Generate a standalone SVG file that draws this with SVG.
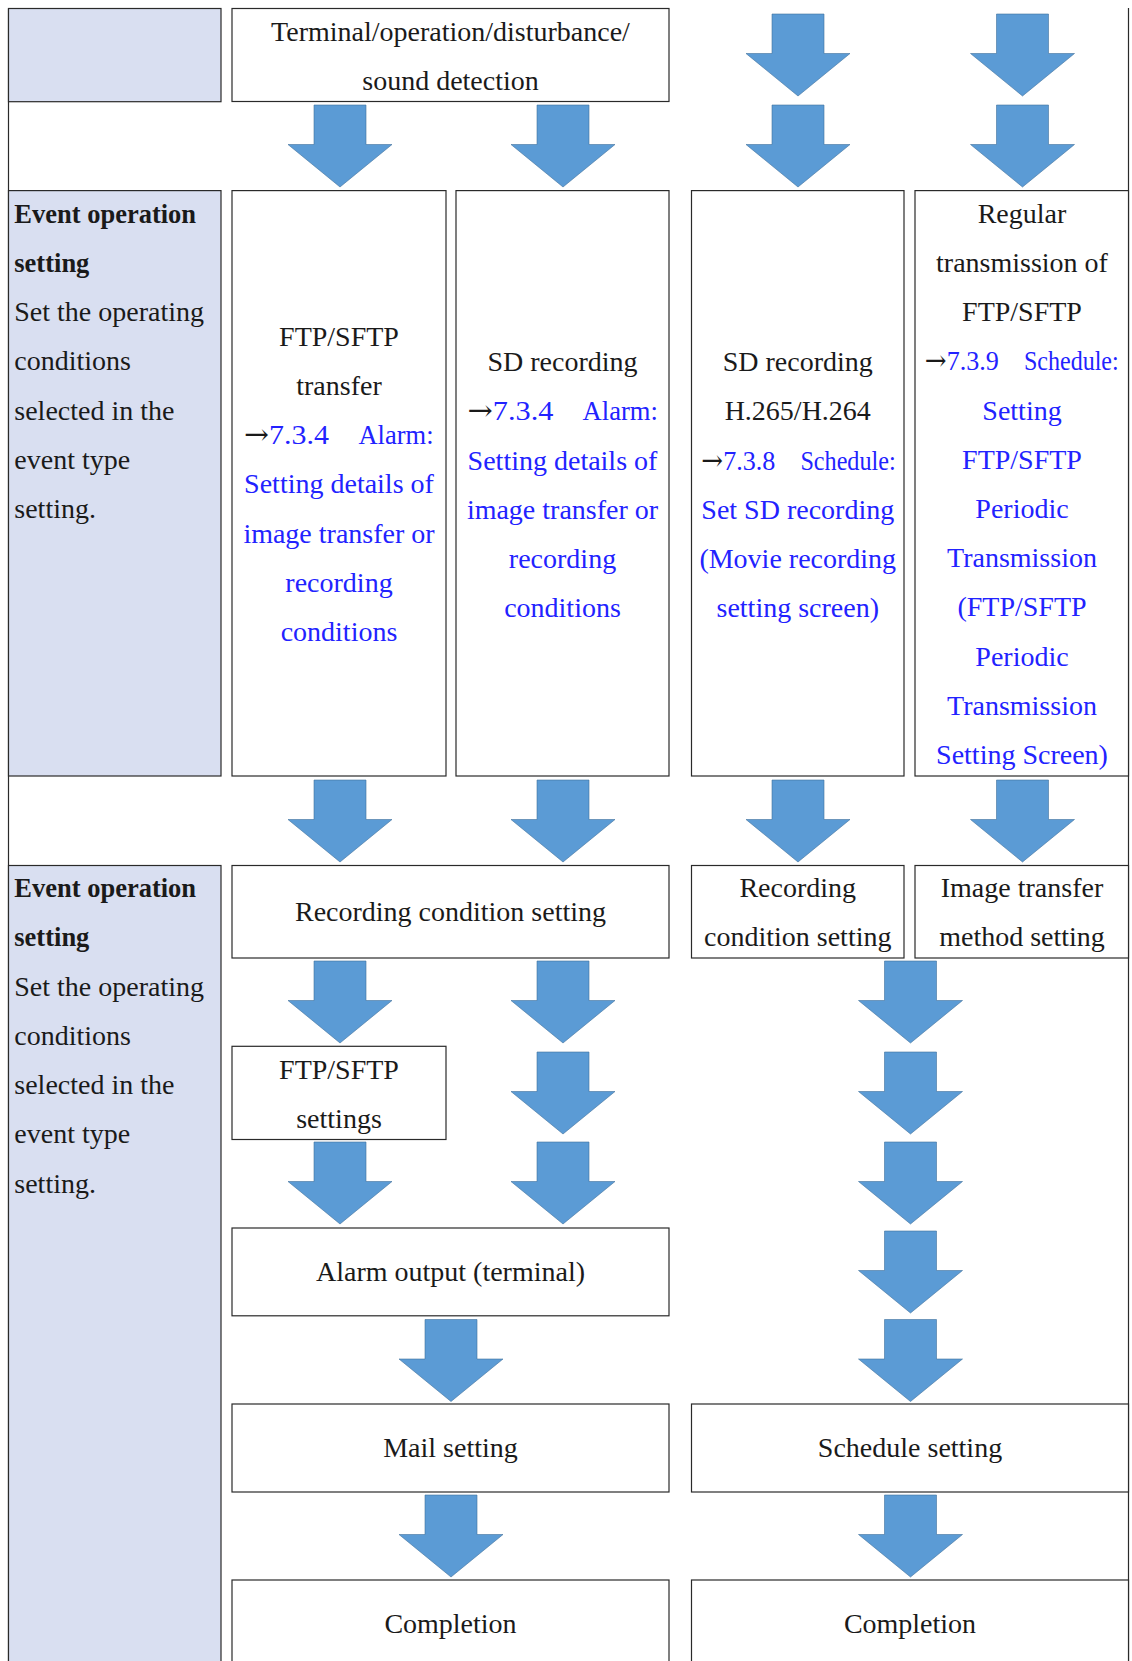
<svg xmlns="http://www.w3.org/2000/svg" width="1132" height="1661" viewBox="0 0 1132 1661">
<style>
.panel{fill:#D9DFF1;stroke:#2a2a2a;stroke-width:1.2}
.box{fill:#ffffff;stroke:#2a2a2a;stroke-width:1.2}
.frame{stroke:#2a2a2a;stroke-width:1.2;fill:none}
text{font-family:"Liberation Serif","Times New Roman",serif;font-size:28px;fill:#1a1a1a}
.c{text-anchor:middle}
.b{font-weight:bold;font-size:26.5px}
.bl{fill:#2222ff}
.ar{font-family:"DejaVu Serif","DejaVu Sans",serif;fill:#1a1a1a}
.arr{fill:#5B9BD5;stroke:#41719C;stroke-width:1;stroke-opacity:0.6}
</style>
<defs>
<path id="a" class="arr" d="M-26,0H26V39.5H52L0,82L-52,39.5H-26Z"/>
</defs>
<rect x="0" y="0" width="1132" height="1661" fill="#ffffff"/>
<g id="frame">
<line class="frame" x1="8.5" y1="8.5" x2="8.5" y2="1661"/>
<line class="frame" x1="1128.5" y1="8" x2="1128.5" y2="1661"/>
</g>
<g id="panel-top"><rect class="panel" x="8.5" y="8.5" width="212.5" height="93.2"/></g>
<g id="panel-event-1">
<rect class="panel" x="8.5" y="190.6" width="212.5" height="585.4"/>
<text class="b" x="14.3" y="222.5">Event operation</text>
<text class="b" x="14.3" y="271.7">setting</text>
<text x="14.3" y="321">Set the operating</text>
<text x="14.3" y="370.2">conditions</text>
<text x="14.3" y="419.5">selected in the</text>
<text x="14.3" y="468.7">event type</text>
<text x="14.3" y="518">setting.</text>
</g>
<g id="panel-event-2">
<rect class="panel" x="8.5" y="865.5" width="212.5" height="805"/>
<text class="b" x="14.3" y="897">Event operation</text>
<text class="b" x="14.3" y="946.2">setting</text>
<text x="14.3" y="995.5">Set the operating</text>
<text x="14.3" y="1044.7">conditions</text>
<text x="14.3" y="1094">selected in the</text>
<text x="14.3" y="1143.2">event type</text>
<text x="14.3" y="1192.5">setting.</text>
</g>
<g id="detection">
<rect class="box" x="232" y="8.5" width="437" height="93"/>
<text class="c" x="450.5" y="41">Terminal/operation/disturbance/</text>
<text class="c" x="450.5" y="89.5">sound detection</text>
</g>
<g id="ftp-transfer">
<rect class="box" x="232" y="190.6" width="214" height="585.4"/>
<text class="c" x="339" y="345.5">FTP/SFTP</text>
<text class="c" x="339" y="394.7">transfer</text>
<text x="244" y="444" textLength="85" lengthAdjust="spacingAndGlyphs"><tspan class="ar">→</tspan><tspan class="bl">7.3.4</tspan></text>
<text class="bl" x="358.5" y="444" textLength="75" lengthAdjust="spacingAndGlyphs">Alarm:</text>
<text class="c bl" x="339" y="493.2">Setting details of</text>
<text class="c bl" x="339" y="542.5">image transfer or</text>
<text class="c bl" x="339" y="591.7">recording</text>
<text class="c bl" x="339" y="641">conditions</text>
</g>
<g id="sd-recording-alarm">
<rect class="box" x="456" y="190.6" width="213" height="585.4"/>
<text class="c" x="562.5" y="371">SD recording</text>
<text x="467.4" y="420.2" textLength="86" lengthAdjust="spacingAndGlyphs"><tspan class="ar">→</tspan><tspan class="bl">7.3.4</tspan></text>
<text class="bl" x="582.6" y="420.2" textLength="75.2" lengthAdjust="spacingAndGlyphs">Alarm:</text>
<text class="c bl" x="562.5" y="469.5">Setting details of</text>
<text class="c bl" x="562.5" y="518.7">image transfer or</text>
<text class="c bl" x="562.5" y="568">recording</text>
<text class="c bl" x="562.5" y="617.2">conditions</text>
</g>
<g id="sd-recording-h265">
<rect class="box" x="691.5" y="190.6" width="212.5" height="585.4"/>
<text class="c" x="797.75" y="371">SD recording</text>
<text class="c" x="797.75" y="420.2">H.265/H.264</text>
<text x="701.3" y="469.5" textLength="74" lengthAdjust="spacingAndGlyphs"><tspan class="ar">→</tspan><tspan class="bl">7.3.8</tspan></text>
<text class="bl" x="800.4" y="469.5" textLength="95.3" lengthAdjust="spacingAndGlyphs">Schedule:</text>
<text class="c bl" x="797.75" y="518.7">Set SD recording</text>
<text class="c bl" x="797.75" y="568">(Movie recording</text>
<text class="c bl" x="797.75" y="617.2">setting screen)</text>
</g>
<g id="regular-transmission">
<rect class="box" x="915" y="190.6" width="213.5" height="585.4"/>
<text class="c" x="1022" y="222.5">Regular</text>
<text class="c" x="1022" y="271.7">transmission of</text>
<text class="c" x="1022" y="321">FTP/SFTP</text>
<text x="924.8" y="370.2" textLength="74" lengthAdjust="spacingAndGlyphs"><tspan class="ar">→</tspan><tspan class="bl">7.3.9</tspan></text>
<text class="bl" x="1024" y="370.2" textLength="94.7" lengthAdjust="spacingAndGlyphs">Schedule:</text>
<text class="c bl" x="1022" y="419.5">Setting</text>
<text class="c bl" x="1022" y="468.7">FTP/SFTP</text>
<text class="c bl" x="1022" y="518">Periodic</text>
<text class="c bl" x="1022" y="567.2">Transmission</text>
<text class="c bl" x="1022" y="616.4">(FTP/SFTP</text>
<text class="c bl" x="1022" y="665.7">Periodic</text>
<text class="c bl" x="1022" y="714.9">Transmission</text>
<text class="c bl" x="1022" y="764.2">Setting Screen)</text>
</g>
<g id="recording-condition-1">
<rect class="box" x="232" y="865.5" width="437" height="92.5"/>
<text class="c" x="450.5" y="921">Recording condition setting</text>
</g>
<g id="recording-condition-2">
<rect class="box" x="691.5" y="865.5" width="212.5" height="92.5"/>
<text class="c" x="797.75" y="897">Recording</text>
<text class="c" x="797.75" y="946">condition setting</text>
</g>
<g id="image-transfer-method">
<rect class="box" x="915" y="865.5" width="213.5" height="92.5"/>
<text class="c" x="1022" y="897">Image transfer</text>
<text class="c" x="1022" y="946">method setting</text>
</g>
<g id="ftp-settings">
<rect class="box" x="232" y="1046.3" width="214" height="93.2"/>
<text class="c" x="339" y="1078.5">FTP/SFTP</text>
<text class="c" x="339" y="1127.5">settings</text>
</g>
<g id="alarm-output">
<rect class="box" x="232" y="1228" width="437" height="87.8"/>
<text class="c" x="450.5" y="1281">Alarm output (terminal)</text>
</g>
<g id="mail-setting">
<rect class="box" x="232" y="1404" width="437" height="88"/>
<text class="c" x="450.5" y="1457">Mail setting</text>
</g>
<g id="schedule-setting">
<rect class="box" x="691.5" y="1404" width="437" height="88"/>
<text class="c" x="910" y="1457">Schedule setting</text>
</g>
<g id="completion-1">
<rect class="box" x="232" y="1580" width="437" height="100"/>
<text class="c" x="450.5" y="1633">Completion</text>
</g>
<g id="completion-2">
<rect class="box" x="691.5" y="1580" width="437" height="100"/>
<text class="c" x="910" y="1633">Completion</text>
</g>
<g id="connectors">
<use href="#a" x="798" y="14"/>
<use href="#a" x="1022.5" y="14"/>
<use href="#a" x="340" y="105"/>
<use href="#a" x="563" y="105"/>
<use href="#a" x="798" y="105"/>
<use href="#a" x="1022.5" y="105"/>
<use href="#a" x="340" y="780"/>
<use href="#a" x="563" y="780"/>
<use href="#a" x="798" y="780"/>
<use href="#a" x="1022.5" y="780"/>
<use href="#a" x="340" y="961"/>
<use href="#a" x="563" y="961"/>
<use href="#a" x="910.5" y="961"/>
<use href="#a" x="563" y="1052"/>
<use href="#a" x="910.5" y="1052"/>
<use href="#a" x="340" y="1142"/>
<use href="#a" x="563" y="1142"/>
<use href="#a" x="910.5" y="1142"/>
<use href="#a" x="910.5" y="1231"/>
<use href="#a" x="451" y="1319.5"/>
<use href="#a" x="910.5" y="1319.5"/>
<use href="#a" x="451" y="1495"/>
<use href="#a" x="910.5" y="1495"/>
</g>
</svg>
